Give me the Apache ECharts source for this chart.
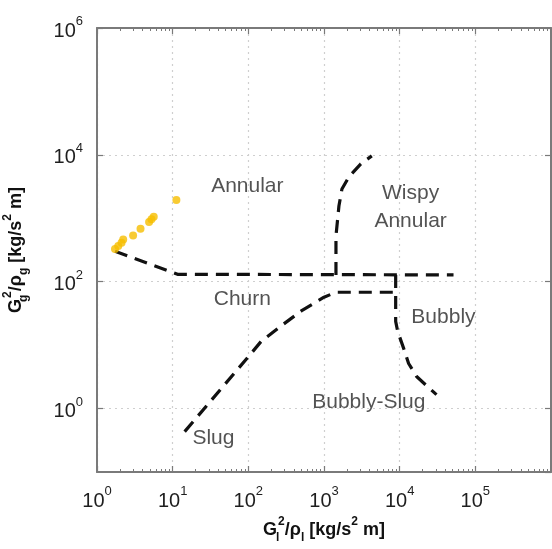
<!DOCTYPE html>
<html>
<head>
<meta charset="utf-8">
<script src="https://cdn.jsdelivr.net/npm/echarts@6/dist/echarts.min.js"></script>
<style>
html,body{margin:0;padding:0;background:#ffffff;}
#chart{width:552px;height:549px;}
</style>
</head>
<body>
<div id="chart"></div>
<script>
// ---- axis ranges ----
const xMin = 1, xMax = 1e6;
const yMin = 0.1, yMax = 1e6;

// ---- measured flow points (yellow) ----
const flowX = [1.73, 1.91, 2.11, 2.22, 3.0, 3.76, 4.88, 5.25, 5.62, 11.2];
const flowY = [327, 364, 410, 464, 537, 684, 873, 962, 1057, 1945];

// ---- flow-regime boundaries (dashed) ----
const annularChurnX = [1.73, 11.6, 51500];
const annularChurnY = [303, 131, 128];

const wispyX = [1439, 1439, 1575, 1726, 2133, 3069, 4284];
const wispyY = [128, 524, 1563, 2897, 4487, 7211, 9640];

const slugChurnX = [14.4, 109, 148, 256, 514, 1000, 1439, 8855];
const slugChurnY = [0.433, 7.41, 11.5, 19.1, 35.4, 56.9, 68.2, 68.2];

const bubblyX = [8855, 8855, 9415, 11290, 13130, 16740, 24080, 30680];
const bubblyY = [128, 23.7, 16.5, 8.9, 5.14, 3.2, 2.15, 1.66];

// ---- regime labels ----
const regionNames = ['Annular', 'Wispy\nAnnular', 'Churn', 'Bubbly', 'Bubbly-Slug', 'Slug'];
const regionX = [97, 13960, 83.4, 37900, 3910, 34.6];
const regionY = [3236, 1506, 52.9, 27.5, 1.24, 0.336];

const zip = (xs, ys) => xs.map((x, i) => [x, ys[i]]);

const FONT = 'Liberation Sans, Arial, Helvetica, sans-serif';
const AX = '#7a7a7a';

const labelRich = {
  b: {fontSize: 20, fontFamily: FONT, color: '#1e1e1e', verticalAlign: 'bottom', lineHeight: 26},
  s: {fontSize: 13, fontFamily: FONT, color: '#1e1e1e', verticalAlign: 'top', lineHeight: 26}
};
function expLabel(v) {
  const e = Math.round(Math.log10(v));
  return '{b|10}{s|' + e + '}';
}
const nameRich = {
  g: {fontSize: 18, fontWeight: 'bold', fontFamily: FONT, color: '#111', verticalAlign: 'middle', lineHeight: 28},
  sup: {fontSize: 12, fontWeight: 'bold', fontFamily: FONT, color: '#111', verticalAlign: 'top', lineHeight: 28},
  sub: {fontSize: 12, fontWeight: 'bold', fontFamily: FONT, color: '#111', verticalAlign: 'bottom', lineHeight: 28},
  subw: {fontSize: 12, fontWeight: 'bold', fontFamily: FONT, color: '#111', verticalAlign: 'bottom', lineHeight: 28, width: 1}
};
const xName = '{g|G}{subw|l}{sup|2}{g|/ρ}{sub|l}{g| [kg/s}{sup|2}{g| m]}';
const yName = '{g|G}{subw|g}{sup|2}{g|/ρ}{sub|g}{g| [kg/s}{sup|2}{g| m]}';

const gridLine = {show: true, lineStyle: {color: '#cfcfcf', width: 1.2, type: [2, 4]}};
const dashStyle = {color: '#111111', width: 3.2, type: [13, 8]};

const chart = echarts.init(document.getElementById('chart'), null, {renderer: 'canvas'});
chart.setOption({
  backgroundColor: '#ffffff',
  animation: false,
  grid: {left: 97, right: 1, top: 28, bottom: 77, containLabel: false, outerBoundsMode: 'none'},
  xAxis: [{
    type: 'log', logBase: 10, min: xMin, max: xMax, position: 'bottom',
    axisLine: {show: true, onZero: false, lineStyle: {color: AX, width: 2}},
    axisTick: {show: true, inside: true, length: 6, lineStyle: {color: AX, width: 1.2}},
    minorTick: {show: true, splitNumber: 9, length: 3, lineStyle: {color: AX, width: 1}},
    axisLabel: {show: true, margin: 13, formatter: expLabel, rich: labelRich, showMaxLabel: false},
    splitLine: gridLine,
    name: xName, nameLocation: 'middle', nameGap: 37, nameTextStyle: {rich: nameRich}
  }, {
    type: 'log', logBase: 10, min: xMin, max: xMax, position: 'top',
    axisLine: {show: true, onZero: false, lineStyle: {color: AX, width: 2}},
    axisTick: {show: true, inside: true, length: 6, lineStyle: {color: AX, width: 1.2}},
    minorTick: {show: true, splitNumber: 9, length: 3, lineStyle: {color: AX, width: 1}},
    axisLabel: {show: false},
    splitLine: {show: false}
  }],
  yAxis: [{
    type: 'log', logBase: 100, min: yMin, max: yMax, position: 'left',
    axisLine: {show: true, onZero: false, lineStyle: {color: AX, width: 2}},
    axisTick: {show: true, inside: true, length: 6, lineStyle: {color: AX, width: 1.2}},
    axisLabel: {show: true, margin: 14, formatter: expLabel, rich: labelRich, showMinLabel: false},
    splitLine: gridLine,
    name: yName, nameLocation: 'middle', nameGap: 67, nameTextStyle: {rich: nameRich}
  }, {
    type: 'log', logBase: 100, min: yMin, max: yMax, position: 'right',
    axisLine: {show: true, onZero: false, lineStyle: {color: AX, width: 2}},
    axisTick: {show: true, inside: true, length: 6, lineStyle: {color: AX, width: 1.2}},
    axisLabel: {show: false},
    splitLine: {show: false}
  }],
  series: [
    {type: 'line', data: zip(annularChurnX, annularChurnY), symbol: 'none', lineStyle: dashStyle, silent: true},
    {type: 'line', data: zip(wispyX, wispyY), symbol: 'none', lineStyle: dashStyle, silent: true},
    {type: 'line', data: zip(slugChurnX, slugChurnY), symbol: 'none', lineStyle: dashStyle, silent: true},
    {type: 'line', data: zip(bubblyX, bubblyY), symbol: 'none', lineStyle: dashStyle, silent: true},
    {type: 'scatter', data: zip(flowX, flowY), symbol: 'circle', symbolSize: 8,
      itemStyle: {color: '#F6BE00'}, silent: true, z: 5},
    {type: 'scatter', silent: true, symbolSize: 1, itemStyle: {color: 'rgba(0,0,0,0)'},
      data: regionNames.map((n, i) => ({name: n, value: [regionX[i], regionY[i]]})),
      label: {show: true, position: 'inside', formatter: p => p.name,
        fontSize: 21, fontFamily: FONT, color: '#282828', lineHeight: 28, align: 'center', verticalAlign: 'middle'}}
  ]
});
</script>
</body>
</html>
